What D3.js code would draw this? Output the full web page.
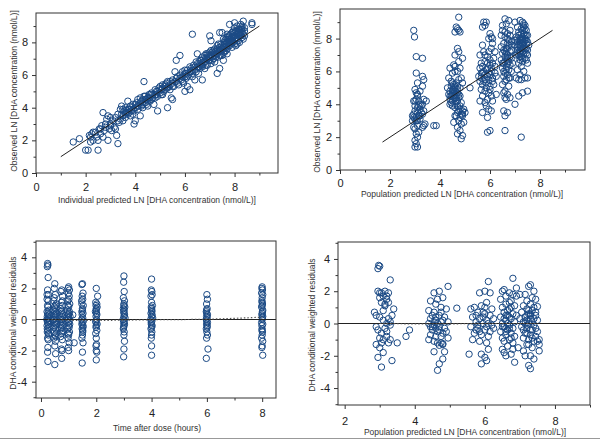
<!DOCTYPE html>
<html>
<head>
<meta charset="utf-8">
<script src="https://cdn.jsdelivr.net/npm/d3@7"></script>
<style>
body { margin: 0; background: #fff; }
svg { display: block; font-family: "Liberation Sans", Arial, sans-serif; }
</style>
</head>
<body>
<svg id="chart" width="600" height="440"></svg>
<script>
// individual predicted vs observed, LN DHA concentration
const ipredObs = [
 [1.5,1.9],[1.75,2.1],[2.0,1.4],[2.1,1.4],[2.5,1.4],[2.15,2.3],[2.2,2.2],[2.2,1.9],[2.25,2.4],[2.3,2.0],
 [2.4,2.5],[2.45,2.2],[2.5,2.0],[2.55,2.7],[2.6,2.4],[2.65,2.9],[2.7,2.2],[2.7,3.7],[2.75,2.6],[2.8,2.8],
 [2.85,3.3],[2.9,2.0],[2.9,3.5],[2.95,2.7],[3.0,3.0],[3.0,3.4],[3.05,2.6],[3.1,3.2],[3.15,2.8],[3.2,2.7],
 [3.25,2.3],[3.3,1.8],[3.3,3.6],[3.35,3.1],[3.4,3.9],[3.4,3.3],[3.45,4.1],[3.5,3.5],[3.5,3.2],[3.55,3.8],
 [3.6,4.0],[3.6,3.4],[3.65,3.7],[3.7,4.4],[3.7,3.6],[3.75,3.9],[3.8,4.1],[3.8,3.5],[3.85,3.8],[3.9,4.2],
 [3.95,3.0],[3.95,3.8],[4.0,3.2],[4.0,4.0],[4.05,4.3],[4.1,3.9],[4.15,4.1],[4.2,4.6],[4.2,3.5],[4.25,4.4],
 [4.3,4.2],[4.35,5.6],[4.35,4.7],[4.4,4.3],[4.45,4.5],[4.5,4.6],[4.5,4.1],[4.55,4.8],[4.6,4.4],[4.65,4.9],
 [4.7,4.6],[4.75,4.2],[4.8,4.8],[4.85,5.0],[4.9,3.8],[4.9,4.7],[4.95,5.2],[5.0,4.9],[5.05,5.1],[5.1,5.4],
 [5.1,4.8],[5.15,5.0],[5.2,5.4],[5.25,5.2],[5.3,4.0],[5.3,5.6],[5.35,5.3],[5.4,5.1],[5.45,4.6],[5.5,4.5],
 [5.5,5.7],[5.55,5.3],[5.6,6.2],[5.65,6.9],[5.65,5.6],[5.7,5.9],[5.75,5.4],[5.8,7.2],[5.8,6.0],[5.85,5.7],
 [5.9,6.2],[5.95,5.5],[6.0,5.0],[6.0,6.1],[6.05,5.8],[6.1,5.3],[6.1,6.3],[6.15,6.0],[6.2,5.1],[6.2,6.5],
 [6.25,6.2],[6.3,8.5],[6.3,5.9],[6.35,6.6],[6.4,5.7],[6.4,6.3],[6.45,6.8],[6.5,7.3],[6.5,6.5],[6.55,6.1],
 [6.6,6.9],[6.65,6.6],[6.7,5.7],[6.7,7.1],[6.75,6.8],[6.8,6.4],[6.85,7.0],[6.9,7.3],[6.95,6.9],[7.0,8.4],
 [7.0,7.1],[7.05,8.1],[7.05,6.7],[7.1,7.4],[7.15,7.0],[7.2,7.6],[7.2,6.8],[7.25,7.3],[7.3,6.1],[7.3,7.8],
 [7.35,7.1],[7.4,8.6],[7.4,6.4],[7.4,7.5],[7.45,7.9],[7.5,8.6],[7.5,7.2],[7.55,6.9],[7.55,7.7],[7.6,8.1],
 [7.6,7.4],[7.65,7.9],[7.7,8.3],[7.7,7.6],[7.75,8.0],[7.8,9.1],[7.8,8.4],[7.8,7.8],[7.85,8.2],[7.9,8.6],
 [7.9,7.7],[7.95,8.0],[8.0,9.2],[8.0,8.4],[8.0,7.9],[8.05,8.7],[8.1,8.2],[8.1,9.0],[8.15,8.5],[8.2,8.0],
 [8.2,8.8],[8.25,8.4],[8.3,9.0],[8.3,8.6],[8.35,9.3],[8.35,8.2],[8.4,8.7],[8.4,8.9],[8.7,9.2],[8.7,9.1],
 [6.6,6.4],[6.8,7.2],[7.0,7.4],[7.1,6.9],[7.2,7.2],[7.3,7.5],[7.4,7.7],[7.5,7.8],[7.6,7.7],[7.7,8.0],
 [7.8,8.1],[7.9,8.3],[8.0,8.1],[8.1,8.5],[8.2,8.6],[8.3,8.3],[7.3,7.3],[7.6,8.0],[7.9,8.0],[8.15,8.8],
 [6.3,6.3],[6.0,5.9],[5.5,5.5],[5.2,5.1],[4.8,5.1],[4.6,4.6],[4.1,4.5],[3.9,3.9],[4.3,4.0],[5.9,5.9],
 [6.9,6.6],[7.7,7.3],[8.05,7.8],[8.25,8.8],[7.45,7.2],[7.15,7.5],[7.35,7.9],[7.55,8.2],[7.75,8.4],[7.95,8.7],
 [8.1,7.9],[8.3,8.9],[7.65,7.5],[7.85,7.9],[6.7,6.6],[6.95,7.2],[5.4,5.6],[5.0,5.3],[4.4,4.7],[3.6,3.7],
 [2.3,2.5],[2.6,2.7],[2.8,3.0],[3.0,2.9],[3.2,3.4],[3.3,3.2],[3.45,3.6],[3.5,3.9],[3.6,3.6],[3.7,3.9],
 [3.75,3.7],[3.85,4.0],[3.9,3.6],[4.0,4.2],[4.1,4.1],[4.2,4.3],[4.25,4.1],[4.3,4.5],[4.4,4.5],[4.45,4.2],
 [4.5,4.4],[4.55,4.6],[4.6,4.8],[4.65,4.5],[4.7,4.8],[4.8,4.6],[4.85,4.8],[4.9,5.0],[5.0,5.1],[5.05,4.8],
 [5.1,5.2],[5.2,5.3],[5.25,5.5],[5.3,5.2],[5.4,5.4],[5.5,5.3],[5.6,5.6],[5.65,5.8],[5.7,5.5],[5.8,5.8],
 [5.9,5.6],[6.0,6.3],[6.05,6.1],[6.1,5.9],[6.2,6.2],[6.25,6.4],[6.3,6.1],[6.4,6.5],[6.45,6.2],[6.5,6.7],
 [6.55,6.5],[6.6,6.7],[6.65,6.9],[6.7,6.5],[6.75,7.0],[6.8,6.8],[6.85,6.6],[6.9,7.0],[6.95,7.1],[7.0,6.9],
 [7.05,7.2],[7.1,7.1],[7.15,7.3],[7.2,7.4],[7.25,7.1],[7.3,7.6],[7.35,7.4],[7.4,7.2],[7.45,7.5],[7.5,7.6],
 [7.55,7.4],[7.6,7.9],[7.65,7.7],[7.7,7.8],[7.75,8.2],[7.8,7.9],[7.85,8.0],[7.9,8.1],[7.95,8.4],[8.0,8.6],
 [8.05,8.3],[8.1,8.7],[8.15,8.1],[8.2,8.4],[8.25,8.6],[8.3,8.8],[8.35,8.5],[8.4,8.4],[8.1,8.3],[7.85,8.5],
 [7.65,8.2],[7.45,7.6],[7.05,7.5],[6.85,7.3],[8.0,8.9],[8.25,9.1],[7.7,8.5]
];

// population predicted vs observed
const predObs = [
 [2.95,8.5],[2.98,8.1],[3.05,6.9],[3.3,6.8],[3.05,5.9],[3.1,5.3],[3.3,5.7],[3.35,5.5],[3.3,5.1],[3.0,4.9],
 [3.05,4.7],[3.1,4.5],[3.15,4.2],[2.95,4.2],[3.2,4.0],[3.35,4.3],[3.45,4.2],[3.3,4.0],[3.0,3.9],[3.1,3.8],
 [3.2,3.7],[3.25,3.5],[3.3,3.4],[2.9,3.3],[2.95,3.2],[3.0,3.1],[3.05,3.0],[2.9,3.0],[3.1,3.0],[3.15,3.3],
 [3.2,3.1],[3.35,3.6],[3.35,2.7],[3.3,2.6],[3.4,2.8],[3.75,2.7],[3.85,2.7],[3.0,2.5],[3.05,2.2],[3.1,2.0],
 [3.0,1.8],[3.05,1.6],[3.0,1.4],[3.1,1.4],[3.15,2.3],[2.95,2.6],[3.25,3.9],[3.1,4.6],[3.2,4.8],[3.0,3.6],
 [3.05,3.2],[3.1,3.5],[3.0,4.2],[3.15,3.9],[3.05,4.3],[3.2,3.3],[2.95,3.4],[3.1,2.7],
 [4.75,9.3],[4.65,8.7],[4.7,8.6],[4.75,8.5],[4.6,8.4],[4.8,8.4],[4.7,7.4],[4.75,7.2],[4.6,7.0],[4.9,6.8],
 [4.75,6.6],[4.55,6.4],[4.4,6.2],[4.6,6.0],[4.8,6.2],[4.5,5.9],[4.35,5.6],[4.45,5.4],[4.55,5.2],[4.65,5.3],
 [4.75,5.5],[4.85,5.6],[4.9,5.3],[4.3,5.0],[4.4,4.8],[4.5,4.9],[4.6,5.0],[4.7,4.9],[4.8,5.0],[4.35,4.6],
 [4.45,4.5],[4.55,4.7],[4.65,4.6],[4.75,4.4],[4.4,4.3],[4.5,4.2],[4.6,4.0],[4.7,4.2],[4.85,4.1],[4.5,3.9],
 [4.4,4.0],[4.6,3.8],[4.8,3.7],[4.9,3.6],[5.0,3.5],[4.95,3.7],[4.7,3.5],[4.65,3.3],[4.8,3.2],[4.75,3.0],
 [4.55,2.9],[4.85,2.8],[4.7,2.6],[4.8,2.4],[4.9,2.1],[4.85,1.9],[4.7,2.2],[4.95,2.9],[4.6,4.4],[4.5,4.6],
 [5.2,5.0],[4.6,3.3],[4.45,5.1],[4.9,3.4],[4.8,3.9],
 [4.5,4.7],[4.6,4.8],[4.7,4.7],[4.55,4.4],[4.65,4.2],[4.45,4.1],[4.75,4.6],[4.6,5.1],[4.5,5.3],[4.7,5.1],
 [4.4,4.5],[4.8,4.5],[4.55,4.9],[4.65,4.4],[4.75,3.6],[4.85,3.4],[4.7,3.9],[4.9,3.3],[4.6,6.3],[4.7,6.0],
 [5.75,9.0],[5.85,9.0],[5.8,8.8],[5.7,8.7],[6.0,8.3],[6.05,8.1],[5.95,8.0],[6.1,7.7],[5.7,7.6],[5.6,7.0],
 [5.75,7.2],[6.05,7.4],[6.2,7.2],[5.9,6.9],[6.0,6.7],[5.65,6.5],[5.8,6.6],[6.1,6.5],[5.6,6.2],[5.75,6.0],
 [5.9,6.2],[6.05,6.0],[6.2,5.9],[5.55,5.7],[5.65,5.6],[5.8,5.8],[5.95,5.5],[6.1,5.6],[6.25,5.7],[5.6,5.4],
 [5.7,5.2],[5.85,5.3],[6.0,5.1],[6.15,5.2],[5.65,4.9],[5.8,4.8],[5.95,4.7],[6.05,4.5],[5.7,4.5],[5.9,4.3],
 [6.1,4.2],[5.6,4.2],[5.85,3.9],[5.95,3.7],[6.05,3.6],[5.7,3.5],[5.9,3.2],[6.0,2.4],[5.9,2.3],[6.25,4.6],
 [6.2,6.3],[5.95,5.9],[5.7,5.9],[6.0,6.4],[5.85,6.1],
 [5.8,5.5],[5.9,5.7],[6.0,5.8],[5.75,5.4],[5.65,5.9],[6.1,5.4],[5.85,5.0],[6.0,4.9],[5.9,6.5],[6.05,6.2],
 [5.7,6.3],[6.15,6.8],[5.8,7.0],[5.95,7.2],[6.1,8.0],[5.8,4.1],
 [6.6,9.2],[6.75,9.1],[6.65,8.9],[6.5,8.8],[6.8,8.5],[6.6,8.4],[6.45,8.2],[6.7,8.0],[6.85,7.8],[6.55,7.7],
 [6.75,7.6],[6.65,7.4],[6.8,7.2],[6.5,7.1],[6.7,7.0],[6.6,6.9],[6.85,6.8],[6.45,6.7],[6.75,6.6],[6.55,6.5],
 [6.8,6.4],[6.65,6.3],[6.5,6.2],[6.75,6.1],[6.85,6.0],[6.6,5.9],[6.7,5.8],[6.55,5.7],[6.8,5.6],[6.65,5.5],
 [6.5,5.2],[6.75,5.1],[6.6,4.8],[6.55,4.7],[6.7,4.6],[6.6,4.4],[6.8,4.4],[6.65,4.3],[6.55,3.6],[6.7,3.5],
 [6.6,3.3],[6.6,2.4],[6.9,6.5],[6.45,7.5],[6.7,7.7],[6.8,8.2],[6.6,6.6],[6.7,6.8],[6.85,7.3],[6.5,6.5],
 [7.0,9.0],
 [6.6,7.2],[6.7,7.4],[6.55,7.3],[6.75,7.9],[6.65,7.1],[6.8,6.9],[6.6,8.1],[6.7,6.5],[6.55,6.0],[6.75,5.6],
 [6.65,6.1],[6.85,7.6],[6.5,8.5],[6.7,8.3],[6.6,5.4],
 [7.2,9.1],[7.3,9.0],[7.4,8.8],[7.1,8.7],[7.25,8.6],[7.45,8.5],[7.15,8.4],[7.35,8.3],[7.5,8.2],[7.05,8.1],
 [7.2,8.0],[7.4,8.0],[7.3,7.9],[7.1,7.8],[7.25,7.7],[7.45,7.7],[7.0,7.6],[7.2,7.5],[7.35,7.4],[7.5,7.3],
 [7.1,7.3],[7.3,7.2],[7.45,7.1],[7.05,7.0],[7.2,6.9],[7.4,6.8],[7.3,6.6],[7.15,6.5],[7.5,6.5],[7.25,6.3],
 [7.1,6.1],[7.35,6.0],[7.2,5.8],[7.05,5.6],[7.4,5.6],[7.25,5.5],[7.5,5.6],[7.15,5.5],[7.0,4.0],[7.15,4.5],
 [7.3,4.7],[7.5,4.8],[7.25,2.0],[7.55,7.6],[7.4,7.9],[7.15,8.2],[7.3,8.5],[7.45,8.2],[7.2,7.2],[7.35,7.6],
 [7.1,7.1],[7.25,6.9],[7.4,7.3],[7.3,8.1],[7.2,7.9],[7.5,7.0],[7.0,7.9],[7.45,6.7],[7.35,8.7],[7.25,7.4],
 [7.2,7.6],[7.3,7.7],[7.15,7.6],[7.35,7.8],[7.25,8.0],[7.4,8.2],[7.1,7.5],[7.45,7.9],[7.3,7.4],[7.2,7.1],
 [7.35,7.1],[7.25,8.3],[7.4,8.6],[7.15,7.0],[7.5,7.8],[7.3,6.8],[7.2,6.7],[7.45,7.4],[7.1,8.0],[7.35,8.9]
];

// time after dose (hours) vs CWRES
const timeRes = [
 [0.24,3.6],[0.25,3.5],[0.23,3.4],[0.26,2.7],[0.24,1.9],[0.27,1.6],[0.22,1.3],[0.26,1.2],[0.24,0.9],[0.28,0.6],
 [0.22,0.5],[0.25,0.4],[0.3,0.3],[0.23,0.2],[0.27,0.1],[0.25,0.05],[0.21,0.0],[0.29,-0.1],[0.24,-0.2],[0.26,-0.3],
 [0.22,-0.4],[0.28,-0.5],[0.25,-0.7],[0.23,-0.8],[0.27,-1.0],[0.24,-1.2],[0.26,-1.3],[0.25,-1.8],[0.24,-2.1],[0.25,-2.7],
 [0.25,0.8],[0.23,-0.6],[0.26,0.3],[0.24,-0.1],[0.27,-0.9],[0.22,1.6],
 [0.5,2.3],[0.48,2.0],[0.52,1.6],[0.46,1.2],[0.55,1.0],[0.49,0.8],[0.53,0.7],[0.45,0.6],[0.51,0.5],[0.56,0.4],
 [0.47,0.3],[0.52,0.2],[0.5,0.1],[0.44,0.0],[0.54,-0.1],[0.48,-0.2],[0.57,-0.3],[0.5,-0.4],[0.46,-0.5],[0.53,-0.6],
 [0.49,-0.8],[0.55,-0.9],[0.51,-1.0],[0.47,-1.2],[0.52,-1.4],[0.5,-1.7],[0.53,-2.2],[0.5,-2.9],
 [0.5,0.3],[0.52,-0.3],[0.48,1.4],[0.47,0.0],[0.53,-1.1],[0.51,0.9],
 [0.75,1.9],[0.72,1.8],[0.78,1.5],[0.74,1.1],[0.77,0.9],[0.71,0.7],[0.76,0.6],[0.73,0.5],[0.79,0.3],[0.75,0.2],
 [0.7,0.1],[0.77,0.0],[0.74,-0.1],[0.78,-0.2],[0.72,-0.3],[0.76,-0.4],[0.73,-0.5],[0.79,-0.7],[0.75,-0.9],[0.71,-1.1],
 [0.77,-1.3],[0.74,-1.9],[0.76,-2.0],[0.75,-2.5],
 [0.75,0.4],[0.73,-0.6],[0.77,1.2],[0.72,0.0],[0.76,-0.8],
 [1.0,2.1],[0.98,2.0],[1.03,1.9],[0.99,1.7],[1.02,1.5],[0.97,1.2],[1.04,1.0],[1.0,0.8],[0.96,0.6],[1.03,0.5],
 [1.01,0.4],[0.98,0.3],[1.05,0.2],[1.0,0.1],[0.97,0.0],[1.02,-0.1],[0.99,-0.2],[1.04,-0.3],[1.0,-0.4],[0.97,-0.6],
 [1.03,-0.8],[1.0,-1.0],[0.98,-1.2],[1.02,-1.5],[0.99,-1.8],[1.0,-2.0],[1.2,-1.5],[1.15,0.3],
 [1.0,0.3],[1.02,-0.5],[0.98,0.9],[1.01,1.3],[0.99,-0.9],
 [1.5,2.3],[1.48,2.25],[1.52,1.7],[1.49,1.5],[1.51,1.3],[1.47,1.2],[1.53,0.9],[1.5,0.7],[1.48,0.5],[1.52,0.4],
 [1.49,0.3],[1.51,0.1],[1.47,0.0],[1.53,-0.1],[1.5,-0.2],[1.48,-0.3],[1.52,-0.5],[1.49,-0.6],[1.51,-0.8],[1.5,-1.0],
 [1.48,-1.2],[1.52,-1.5],[1.5,-2.1],[1.49,-2.8],
 [1.5,0.6],[1.52,-0.4],[1.48,1.0],[1.51,-0.7],
 [2.0,2.0],[2.05,1.5],[1.98,1.1],[2.02,1.0],[1.99,0.9],[2.03,0.8],[2.0,0.7],[1.97,0.5],[2.02,0.3],[1.99,0.2],
 [2.01,0.0],[1.98,-0.1],[2.03,-0.3],[2.0,-0.4],[1.99,-0.5],[2.02,-0.7],[1.98,-0.9],[2.0,-1.2],[2.01,-1.6],[1.99,-1.7],
 [2.0,-2.0],[2.02,-2.1],[2.0,-2.6],
 [2.01,0.4],[1.99,-0.2],[2.0,0.6],
 [3.0,2.8],[2.99,2.4],[3.01,1.8],[2.98,1.4],[3.02,1.2],[3.0,1.0],[3.03,0.8],[2.98,0.7],[3.01,0.6],[2.99,0.5],
 [3.02,0.3],[3.0,0.2],[3.04,0.1],[2.97,0.0],[3.01,-0.1],[2.99,-0.2],[3.02,-0.3],[3.0,-0.4],[2.98,-0.6],[3.01,-0.8],
 [3.0,-1.0],[3.02,-1.4],[3.0,-1.9],[2.99,-2.4],
 [3.01,0.4],[2.99,-0.5],[3.0,0.9],
 [4.0,2.6],[3.99,1.9],[4.01,1.8],[4.02,1.6],[3.98,1.5],[4.0,1.1],[4.03,0.9],[3.99,0.8],[4.01,0.6],[3.98,0.4],
 [4.02,0.3],[4.0,0.2],[4.04,0.1],[3.97,0.0],[4.01,-0.1],[3.99,-0.3],[4.02,-0.4],[4.0,-0.5],[3.98,-0.6],[4.01,-0.8],
 [4.0,-1.0],[3.99,-1.2],[4.0,-1.7],[4.0,-2.3],
 [4.01,0.5],[3.99,-0.2],[4.0,0.7],
 [6.0,1.6],[6.02,1.3],[5.99,1.0],[6.01,0.7],[5.98,0.5],[6.0,0.4],[6.02,0.3],[5.99,0.2],[6.01,0.1],[5.98,0.0],
 [6.0,-0.1],[6.02,-0.2],[5.99,-0.3],[6.01,-0.4],[5.98,-0.6],[6.0,-0.8],[6.02,-1.0],[5.99,-1.2],[6.04,-1.9],[5.98,-2.5],
 [6.01,-0.5],[5.99,0.6],
 [8.0,2.1],[7.99,2.0],[8.01,1.9],[7.98,1.7],[8.02,1.6],[8.0,1.4],[7.99,1.2],[8.01,1.0],[8.0,0.9],[7.98,0.8],
 [8.02,0.6],[8.0,0.4],[7.99,0.3],[8.01,0.1],[8.0,0.0],[7.98,-0.2],[8.02,-0.3],[8.0,-0.6],[7.99,-0.7],[8.01,-0.8],
 [8.0,-1.0],[7.98,-1.2],[8.02,-1.4],[8.0,-1.7],[7.99,-1.8],[8.02,-2.3],
 [8.01,0.5],[7.99,-0.4],[8.0,1.1],[8.02,0.2]
];

// population predicted vs CWRES
const predRes = [
 [2.97,3.6],[3.0,3.55],[2.95,3.4],[3.3,2.7],[2.95,2.0],[3.05,1.9],[3.15,2.0],[3.25,1.9],[3.1,1.7],[3.0,1.6],
 [3.2,1.5],[3.05,1.3],[3.15,1.2],[3.25,1.3],[2.85,0.7],[2.9,0.5],[3.0,0.4],[3.1,0.2],[3.2,0.0],[3.3,0.1],
 [3.35,0.5],[3.4,0.9],[3.3,-0.1],[3.15,-0.3],[2.95,-0.4],[3.05,-0.6],[3.2,-0.8],[3.0,-0.9],[3.1,-1.0],[3.3,-1.0],
 [2.9,-1.3],[3.05,-1.2],[3.25,-1.2],[3.5,-1.2],[3.0,-1.5],[3.1,-1.8],[2.95,-2.1],[3.05,-2.7],[3.35,-2.3],[3.75,-0.8],
 [3.85,-0.4],[3.15,1.1],[3.25,0.3],[2.9,-0.2],[3.1,0.8],[3.2,-0.5],[3.0,1.9],[3.2,1.7],
 [4.95,2.3],[4.7,2.0],[4.55,1.9],[4.8,1.6],[4.65,1.5],[4.45,1.4],[4.6,1.2],[4.75,1.0],[4.9,0.9],[4.4,0.8],
 [4.55,0.7],[4.7,0.5],[4.85,0.4],[4.45,0.3],[4.6,0.2],[4.75,0.1],[4.95,0.1],[4.4,0.0],[4.55,-0.1],[4.7,-0.2],
 [4.85,-0.3],[4.5,-0.4],[4.65,-0.5],[4.8,-0.6],[4.45,-0.7],[4.6,-0.8],[4.95,-0.9],[4.4,-1.0],[4.55,-1.1],[4.75,-1.2],
 [4.8,-1.3],[4.7,-1.35],[4.55,-1.75],[4.85,-1.75],[4.8,-2.2],[4.7,-2.5],[4.65,-2.9],[5.2,0.95],[4.9,-0.5],[4.5,0.5],
 [4.65,0.0],[4.8,0.2],[4.6,-0.3],[4.45,-0.2],[4.75,0.7],
 [4.6,0.4],[4.7,-0.4],[4.55,0.1],[4.75,-0.8],[4.65,-1.2],[4.8,-1.25],[4.5,-0.2],
 [6.1,2.6],[6.0,2.0],[5.85,1.9],[6.15,1.9],[6.05,1.3],[5.9,1.1],[5.7,1.0],[6.2,0.9],[5.6,0.9],[5.8,0.7],
 [6.0,0.6],[6.15,0.5],[5.65,0.4],[5.85,0.3],[6.05,0.2],[5.75,0.1],[5.95,0.0],[6.2,-0.1],[5.6,-0.2],[5.8,-0.3],
 [6.0,-0.4],[6.15,-0.5],[5.7,-0.6],[5.9,-0.7],[6.1,-0.8],[5.65,-1.0],[5.85,-1.1],[6.05,-1.2],[6.1,-1.6],[5.55,-1.9],
 [5.9,-1.9],[6.0,-2.1],[6.05,-2.3],[5.9,-2.5],[6.25,-0.3],[6.25,0.3],[5.75,-0.4],[5.95,0.4],[6.1,0.0],[5.8,-0.1],
 [5.95,0.7],[5.85,-0.5],[6.05,-0.2],[5.75,0.5],[6.0,1.0],
 [6.8,2.8],[6.55,2.1],[6.5,2.0],[6.7,1.9],[6.8,1.8],[6.6,1.7],[6.9,1.7],[6.45,1.5],[6.75,1.4],[6.6,1.2],
 [6.85,1.1],[6.5,1.0],[6.7,0.9],[6.55,0.7],[6.8,0.6],[6.65,0.5],[6.45,0.4],[6.75,0.3],[6.6,0.2],[6.85,0.1],
 [6.5,0.0],[6.7,-0.1],[6.55,-0.2],[6.8,-0.3],[6.65,-0.4],[6.45,-0.5],[6.75,-0.6],[6.6,-0.7],[6.85,-0.8],[6.5,-0.9],
 [6.7,-1.0],[6.55,-1.1],[6.8,-1.2],[6.65,-1.4],[6.5,-1.6],[6.55,-1.8],[6.6,-2.0],[6.75,-1.9],[6.85,-2.4],[6.95,-1.5],
 [6.9,0.5],[6.65,0.0],[6.7,0.4],[6.6,-0.3],[6.75,1.0],[6.5,-0.2],[7.0,1.8],
 [6.6,0.5],[6.7,-0.3],[6.65,0.8],[6.75,-0.9],[6.55,0.3],[6.7,1.3],[6.6,-0.5],[6.8,-1.6],
 [7.3,2.4],[7.25,2.3],[7.4,2.0],[7.15,1.8],[7.35,1.6],[7.45,1.5],[7.2,1.4],[7.3,1.2],[7.1,1.1],[7.4,1.0],
 [7.5,1.05],[7.2,0.9],[7.35,0.8],[7.05,0.7],[7.25,0.6],[7.45,0.5],[7.15,0.4],[7.3,0.3],[7.5,0.2],[7.1,0.1],
 [7.25,0.0],[7.4,-0.1],[7.05,-0.2],[7.2,-0.3],[7.35,-0.4],[7.5,-0.5],[7.15,-0.6],[7.3,-0.7],[7.45,-0.8],[7.1,-0.9],
 [7.25,-1.0],[7.4,-1.1],[7.55,-1.0],[7.2,-1.3],[7.35,-1.5],[7.55,-1.3],[7.1,-1.7],[7.3,-2.0],[7.15,-2.0],[7.4,-2.2],
 [7.25,-2.6],[7.3,-2.8],[7.0,0.3],[7.2,0.2],[7.35,0.1],[7.45,-0.3],[7.3,0.5],[7.2,-0.1],[6.9,2.2],[7.55,-1.7],
 [7.2,0.5],[7.3,-0.4],[7.25,0.8],[7.35,-0.9],[7.15,0.0],[7.3,0.6],[7.2,-0.6],[7.4,0.3],[7.25,-1.3],[7.1,-0.4],
 [7.45,0.7],[7.5,-1.1]
];

// smooth trend through residuals (dotted)
const timeTrend = [[0.25,0.0],[1,-0.05],[2,-0.06],[3,-0.04],[4,-0.02],[6,0.02],[8,0.15]];
const predTrend = [[3.0,0.0],[4,-0.02],[5,-0.02],[6,0.0],[7,0.0],[7.5,0.0]];

const majorObs = [0, 2, 4, 6, 8];
const minorObs = [1, 3, 5, 7, 9];
const majorRes = [-4, -2, 0, 2, 4];
const minorRes = [-5, -3, -1, 1, 3, 5];
const majorPred4 = [2, 4, 6, 8];
const minorPred4 = [3, 5, 7, 9];

const ringColor = "#1b4a85";

const svg = d3.select("#chart");

function drawPanel(p) {
	let x = d3.scaleLinear().domain(p.xDomain).range([p.left, p.right]);
	let y = d3.scaleLinear().domain(p.yDomain).range([p.bottom, p.top]);
	let g = svg.append("g");

	// minor ticks
	g.append("g").attr("transform", "translate(0," + p.bottom + ")")
		.call(d3.axisBottom(x).tickValues(p.xMinor).tickSize(2.5).tickFormat(""));
	g.append("g").attr("transform", "translate(" + p.left + ",0)")
		.call(d3.axisLeft(y).tickValues(p.yMinor).tickSize(2.5).tickFormat(""));

	// major ticks
	g.append("g").attr("transform", "translate(0," + p.bottom + ")")
		.call(d3.axisBottom(x).tickValues(p.xMajor).tickSize(4).tickPadding(p.xPad).tickFormat(d3.format("d")));
	g.append("g").attr("transform", "translate(" + p.left + ",0)")
		.call(d3.axisLeft(y).tickValues(p.yMajor).tickSize(4).tickPadding(p.yPad).tickFormat(d => d < 0 ? "-" + Math.abs(d) : d));

	g.selectAll(".domain").remove();
	g.selectAll(".tick line").attr("stroke", "#333");
	g.selectAll(".tick text").attr("font-family", null).attr("font-size", 11).attr("fill", "#222");

	// points
	g.append("g").selectAll("circle").data(p.points).enter().append("circle")
		.attr("cx", d => x(d[0])).attr("cy", d => y(d[1])).attr("r", 3.2)
		.attr("fill", "none").attr("stroke", ringColor).attr("stroke-width", 1);

	if (p.zeroLine) {
		g.append("line").attr("x1", p.left).attr("x2", p.right)
			.attr("y1", y(0)).attr("y2", y(0)).attr("stroke", "#222").attr("stroke-width", 1);
	}
	if (p.refLine) {
		g.append("line").attr("x1", x(p.refLine[0])).attr("y1", y(p.refLine[0]))
			.attr("x2", x(p.refLine[1])).attr("y2", y(p.refLine[1]))
			.attr("stroke", "#222").attr("stroke-width", 1);
	}
	if (p.trend) {
		g.append("path").datum(p.trend)
			.attr("d", d3.line().x(d => x(d[0])).y(d => y(d[1])).curve(d3.curveMonotoneX))
			.attr("fill", "none").attr("stroke", "#555").attr("stroke-width", 1.2)
			.attr("stroke-dasharray", "1.5,2");
	}

	// frame
	g.append("rect").attr("x", p.left).attr("y", p.top)
		.attr("width", p.right - p.left).attr("height", p.bottom - p.top)
		.attr("fill", "none").attr("stroke", "#333").attr("stroke-width", 1);

	// titles
	g.append("text").attr("x", p.xTitlePos[0]).attr("y", p.xTitlePos[1]).attr("dy", "0.35em")
		.attr("text-anchor", "middle").attr("font-size", 8.5).attr("fill", "#333").text(p.xTitle);
	g.append("text").attr("transform", "translate(" + p.yTitlePos[0] + "," + p.yTitlePos[1] + ") rotate(-90)")
		.attr("dy", "0.35em").attr("text-anchor", "middle").attr("font-size", 8.5).attr("fill", "#333").text(p.yTitle);
}

drawPanel({
	left: 36, top: 13, right: 278, bottom: 173,
	xDomain: [0, 9.75], yDomain: [0, 9.8],
	xMajor: majorObs, xMinor: minorObs, yMajor: majorObs, yMinor: minorObs,
	xPad: 6, yPad: 4,
	points: ipredObs, refLine: [1, 9],
	xTitle: "Individual predicted LN [DHA concentration (nmol/L)]", xTitlePos: [157, 200],
	yTitle: "Observed LN [DHA concentration (nmol/L)]", yTitlePos: [14, 91]
});

drawPanel({
	left: 340, top: 9, right: 585, bottom: 170,
	xDomain: [0, 9.8], yDomain: [0, 9.8],
	xMajor: majorObs, xMinor: minorObs, yMajor: majorObs, yMinor: minorObs,
	xPad: 5, yPad: 4,
	points: predObs, refLine: [1.7, 8.5],
	xTitle: "Population predicted LN [DHA concentration (nmol/L)]", xTitlePos: [462, 194],
	yTitle: "Observed LN [DHA concentration (nmol/L)]", yTitlePos: [317, 92]
});

drawPanel({
	left: 36, top: 241, right: 276, bottom: 398,
	xDomain: [-0.18, 8.5], yDomain: [-5.05, 5.05],
	xMajor: majorObs, xMinor: [1, 3, 5, 7], yMajor: majorRes, yMinor: minorRes,
	xPad: 7, yPad: 5,
	points: timeRes, zeroLine: true, trend: timeTrend,
	xTitle: "Time after dose (hours)", xTitlePos: [157, 428],
	yTitle: "DHA conditional weighted residuals", yTitlePos: [13, 323]
});

drawPanel({
	left: 338, top: 242, right: 590, bottom: 405,
	xDomain: [1.81, 9.0], yDomain: [-5.05, 5.05],
	xMajor: majorPred4, xMinor: minorPred4, yMajor: majorRes, yMinor: minorRes,
	xPad: 8, yPad: 4,
	points: predRes, zeroLine: true, trend: predTrend,
	xTitle: "Population predicted LN [DHA concentration (nmol/L)]", xTitlePos: [465, 432],
	yTitle: "DHA conditional weighted residuals", yTitlePos: [312, 325]
});

// bottom rule of the figure
svg.append("line").attr("x1", 0).attr("x2", 600).attr("y1", 438.5).attr("y2", 438.5)
	.attr("stroke", "#999").attr("stroke-width", 1);
</script>
</body>
</html>
